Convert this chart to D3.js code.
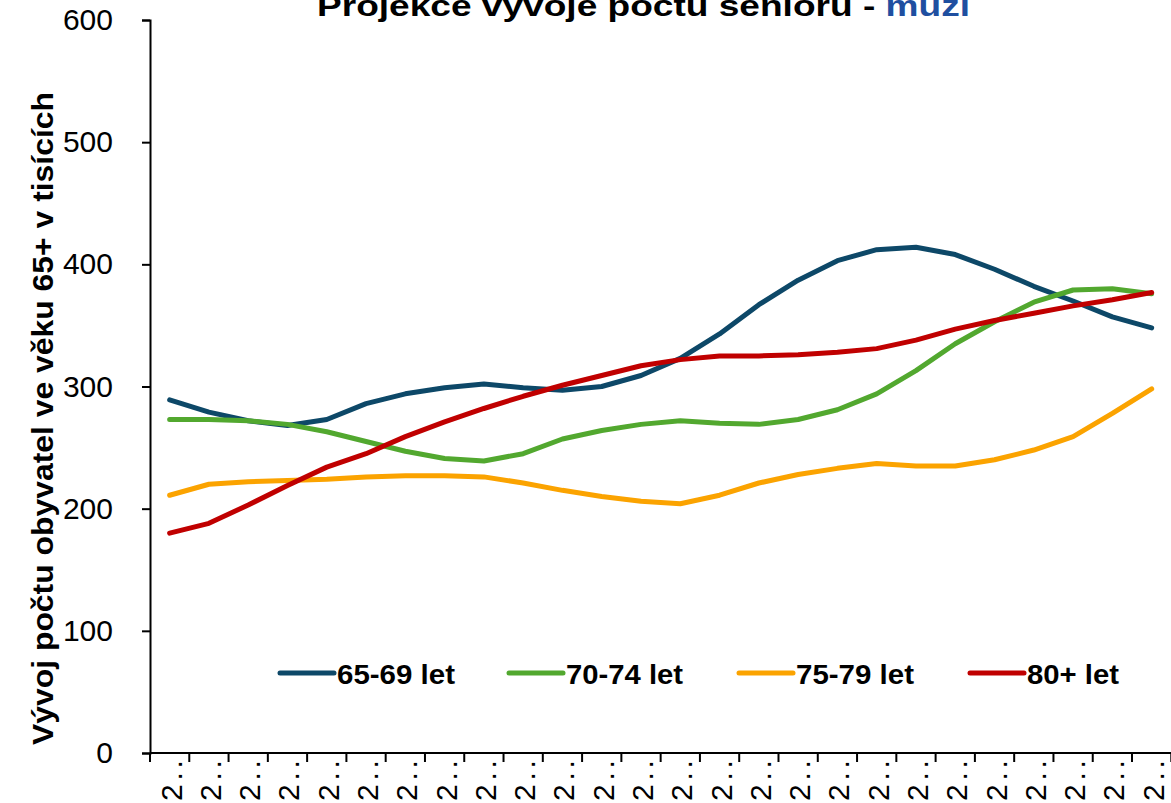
<!DOCTYPE html>
<html>
<head>
<meta charset="utf-8">
<script src="https://cdn.jsdelivr.net/npm/d3@7"></script>
<style>
  html, body { margin: 0; padding: 0; background: #fff; }
  svg { display: block; font-family: "Liberation Sans", Arial, sans-serif; }
</style>
</head>
<body>
<svg id="chart" width="1171" height="803"></svg>
<script>
// Years of the projection (one category per year)
const years = d3.range(2025, 2051);
// Tick label text as it appears under each category (clipped)
const tickLabel = "2..";

// Male seniors by age group, thousands
const men6569 = [289, 279, 272, 268, 273, 286, 294, 299, 302, 299, 297, 300, 309, 323, 343, 367, 387, 403, 412, 414, 408, 396, 382, 370, 357, 348];
const men7074 = [273, 273, 272, 269, 263, 255, 247, 241, 239, 245, 257, 264, 269, 272, 270, 269, 273, 281, 294, 313, 335, 353, 369, 379, 380, 376];
const men7579 = [211, 220, 222, 223, 224, 226, 227, 227, 226, 221, 215, 210, 206, 204, 211, 221, 228, 233, 237, 235, 235, 240, 248, 259, 278, 298];
const men80 = [180, 188, 203, 219, 234, 245, 259, 271, 282, 292, 301, 309, 317, 322, 325, 325, 326, 328, 331, 338, 347, 354, 360, 366, 371, 377];

const seriesNames = ["65-69 let", "70-74 let", "75-79 let", "80+ let"];
const seriesColors = ["#0D4868", "#52A82F", "#FBA300", "#C00000"];
const yTicks = [0, 100, 200, 300, 400, 500, 600];

const series = [men6569, men7074, men7579, men80].map((vals, i) => ({
  name: seriesNames[i], color: seriesColors[i], values: vals
}));

const svg = d3.select("#chart");

const x = d3.scaleBand().domain(years).range([150, 1171.3]).paddingInner(0).paddingOuter(0);
const y = d3.scaleLinear().domain([0, 600]).range([753, 20]);
const cx = d => x(d) + x.bandwidth() / 2;

// Title (top partially outside the canvas)
const title = svg.append("text")
  .attr("x", 317).attr("y", 15.5)
  .attr("font-size", 30).attr("font-weight", "bold")
  .attr("textLength", 653).attr("lengthAdjust", "spacingAndGlyphs");
title.append("tspan").attr("fill", "#000").text("Projekce vývoje počtu seniorů - ");
title.append("tspan").attr("fill", "#1F4FA0").text("muži");

// Y axis title
svg.append("text")
  .attr("transform", "translate(53,418.5) rotate(-90)")
  .attr("text-anchor", "middle")
  .attr("font-size", 30).attr("font-weight", "bold")
  .attr("textLength", 653).attr("lengthAdjust", "spacingAndGlyphs")
  .text("Vývoj počtu obyvatel ve věku 65+ v tisících");

// Y axis
const yAxis = svg.append("g").attr("transform", "translate(150,0)")
  .call(d3.axisLeft(y).tickValues(yTicks).tickSize(8).tickPadding(29));
yAxis.select(".domain").attr("stroke", "#000").attr("stroke-width", 2);
yAxis.selectAll(".tick line").attr("stroke", "#000").attr("stroke-width", 2);
yAxis.selectAll(".tick text")
  .attr("font-size", 30).attr("font-family", "Liberation Sans, Arial, sans-serif")
  .attr("fill", "#000");

// X axis: labels centred under each year, ticks at category boundaries
const xAxis = svg.append("g").attr("transform", "translate(0,753)");
xAxis.append("line").attr("x1", 150).attr("x2", 1171.3).attr("y1", 0).attr("y2", 0)
  .attr("stroke", "#000").attr("stroke-width", 2);
const bounds = years.map(d => x(d)).concat([x(years[years.length - 1]) + x.bandwidth()]);
xAxis.selectAll("line.tk").data(bounds).join("line").attr("class", "tk")
  .attr("x1", d => d).attr("x2", d => d).attr("y1", 0).attr("y2", 9)
  .attr("stroke", "#000").attr("stroke-width", 2);
xAxis.selectAll("text.lbl").data(years).join("text").attr("class", "lbl")
  .attr("transform", d => `translate(${cx(d) + 12},48) rotate(-90)`)
  .attr("text-anchor", "start")
  .attr("font-size", 30)
  .attr("letter-spacing", 3.7)
  .text(tickLabel);

// Lines
const line = d3.line().x((v, i) => cx(years[i])).y(v => y(v));
svg.append("g").selectAll("path").data(series).join("path")
  .attr("d", d => line(d.values))
  .attr("fill", "none").attr("stroke", d => d.color)
  .attr("stroke-width", 5).attr("stroke-linejoin", "round").attr("stroke-linecap", "round");

// Legend
const legendX = [280, 509, 739, 970];
const legendW = [118, 117, 118, 92];
const lg = svg.append("g").selectAll("g").data(series).join("g")
  .attr("transform", (d, i) => `translate(${legendX[i]},673)`);
lg.append("line").attr("x1", 0).attr("x2", 54).attr("y1", 0).attr("y2", 0)
  .attr("stroke", d => d.color).attr("stroke-width", 5).attr("stroke-linecap", "round");
lg.append("text").attr("x", 57).attr("y", 10.5)
  .attr("font-size", 28).attr("font-weight", "bold")
  .attr("textLength", (d, i) => legendW[i]).attr("lengthAdjust", "spacingAndGlyphs")
  .text(d => d.name);
</script>
</body>
</html>
